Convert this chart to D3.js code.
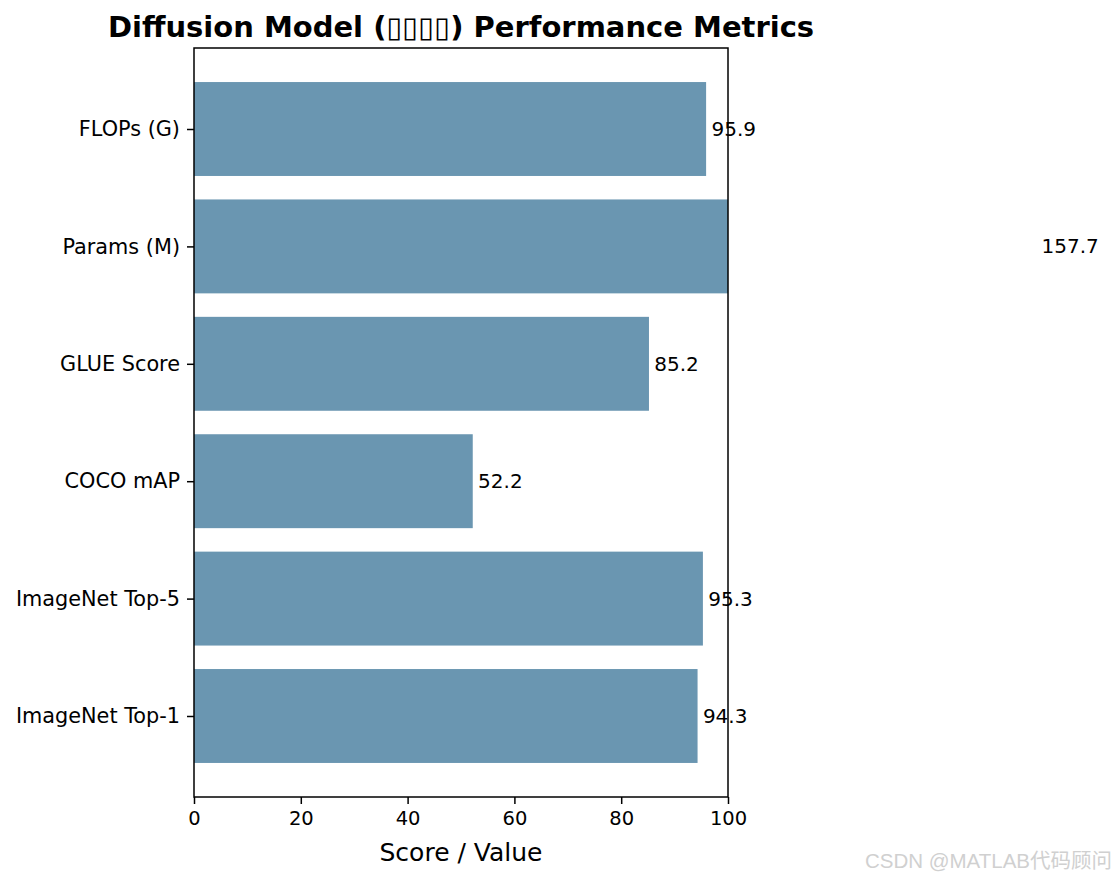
<!DOCTYPE html>
<html>
<head>
<meta charset="utf-8">
<script src="https://cdn.jsdelivr.net/npm/d3@7"></script>
<style>
  body { margin: 0; background: #fff; }
  svg text { font-family: "DejaVu Sans", sans-serif; }
</style>
</head>
<body>
<div id="chart"></div>
<script>
// values
var categories = ["FLOPs (G)", "Params (M)", "GLUE Score", "COCO mAP", "ImageNet Top-5", "ImageNet Top-1"];
var values = [95.9, 157.7, 85.2, 52.2, 95.3, 94.3];
var xTicks = [0, 20, 40, 60, 80, 100];

var width = 1116, height = 880;
var margin = {top: 48, right: 388, bottom: 83, left: 194};
var innerW = width - margin.left - margin.right;
var innerH = height - margin.top - margin.bottom;

var svg = d3.select("#chart").append("svg")
  .attr("width", width)
  .attr("height", height);

var g = svg.append("g")
  .attr("transform", "translate(" + margin.left + "," + margin.top + ")");

var x = d3.scaleLinear().domain([0, 100]).range([0, innerW]);

// matplotlib style band: bars 0.8 wide, axis padded 5% around them
var nCat = categories.length;
var lo = -0.4 - 0.05 * (nCat - 0.2), hi = nCat - 1 + 0.4 + 0.05 * (nCat - 0.2);
var y = d3.scaleLinear().domain([lo, hi]).range([0, innerH]);

g.append("clipPath").attr("id", "clip")
  .append("rect").attr("width", innerW).attr("height", innerH);

g.append("g").attr("clip-path", "url(#clip)")
  .selectAll(".bar")
  .data(values)
  .enter()
  .append("rect")
  .attr("class", "bar")
  .attr("x", x(0))
  .attr("y", (d, i) => y(i - 0.4))
  .attr("width", d => x(d) - x(0))
  .attr("height", (d, i) => y(i + 0.4) - y(i - 0.4))
  .attr("fill", "#6a96b1");

// value labels, placed one unit past the bar end (not clipped)
g.selectAll(".val")
  .data(values)
  .enter()
  .append("text")
  .attr("class", "val")
  .attr("x", d => x(d + 1))
  .attr("y", (d, i) => y(i))
  .attr("dy", "0.35em")
  .attr("font-size", 20)
  .attr("fill", "#000")
  .text(d => d.toFixed(1));

// frame
g.append("rect")
  .attr("width", innerW).attr("height", innerH)
  .attr("fill", "none").attr("stroke", "#000").attr("stroke-width", 1.5);

// x axis
var xAxis = g.append("g")
  .attr("transform", "translate(0," + innerH + ")")
  .call(d3.axisBottom(x).tickValues(xTicks).tickSize(7).tickPadding(7));
xAxis.select(".domain").remove();
xAxis.selectAll("text").attr("font-size", 19.5).attr("font-family", "DejaVu Sans").attr("fill", "#000");
xAxis.selectAll("line").attr("stroke", "#000").attr("stroke-width", 1.5);

// y axis
var yAxis = g.append("g")
  .call(d3.axisLeft(y).tickValues(d3.range(nCat)).tickFormat(i => categories[i]).tickSize(7).tickPadding(7));
yAxis.select(".domain").remove();
yAxis.selectAll("text").attr("font-size", 20.8).attr("font-family", "DejaVu Sans").attr("fill", "#000");
yAxis.selectAll("line").attr("stroke", "#000").attr("stroke-width", 1.5);

// axis label
svg.append("text")
  .attr("x", margin.left + innerW / 2)
  .attr("y", 861)
  .attr("text-anchor", "middle")
  .attr("font-size", 25)
  .text("Score / Value");

// title (the CJK part shows as missing glyph boxes in the reference)
svg.append("text")
  .attr("x", margin.left + innerW / 2)
  .attr("y", 37)
  .attr("text-anchor", "middle")
  .attr("font-size", 29)
  .attr("font-weight", "bold")
  .text("Diffusion Model (\u25AF\u25AF\u25AF\u25AF) Performance Metrics");

// watermark
svg.append("text")
  .attr("x", 1112)
  .attr("y", 868)
  .attr("text-anchor", "end")
  .attr("font-size", 20.5)
  .attr("fill", "#d0d0d0")
  .style("font-family", "'Liberation Sans', 'Noto Sans CJK SC', sans-serif")
  .text("CSDN @MATLAB代码顾问");
</script>
</body>
</html>
